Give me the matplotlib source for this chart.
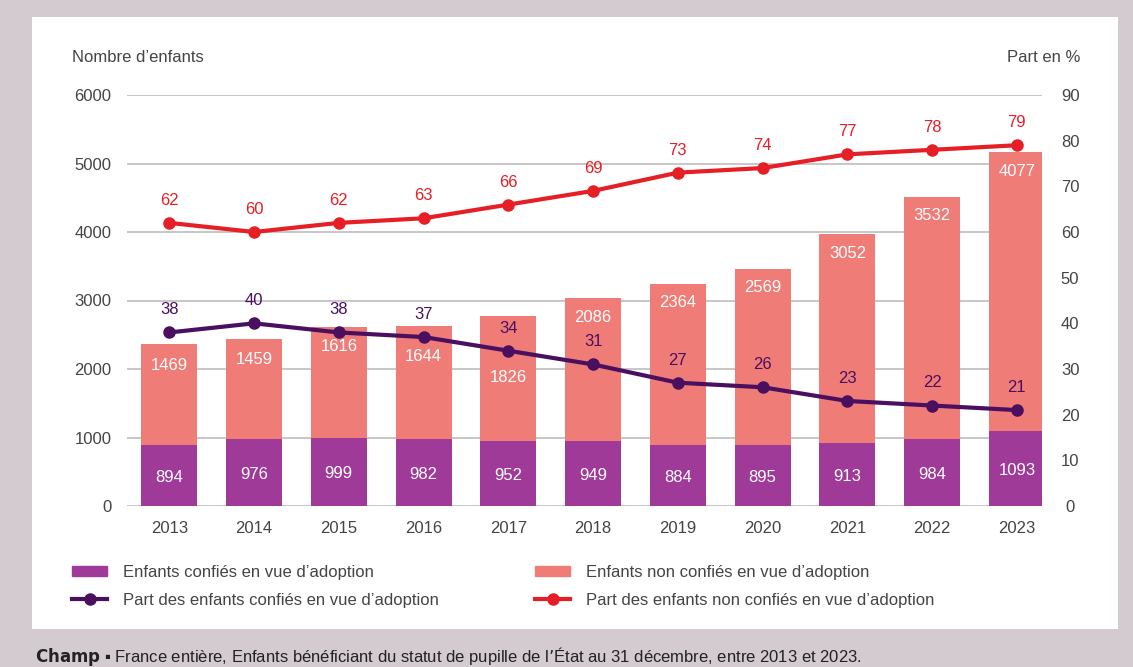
import numpy as np
import matplotlib.pyplot as plt
from matplotlib.patches import Rectangle
from matplotlib.lines import Line2D

plt.rcParams['font.family'] = ['Liberation Sans', 'DejaVu Sans']

years = ['2013', '2014', '2015', '2016', '2017', '2018', '2019', '2020', '2021', '2022', '2023']
confies = [894, 976, 999, 982, 952, 949, 884, 895, 913, 984, 1093]
non_confies = [1469, 1459, 1616, 1644, 1826, 2086, 2364, 2569, 3052, 3532, 4077]
part_confies = [38, 40, 38, 37, 34, 31, 27, 26, 23, 22, 21]
part_non_confies = [62, 60, 62, 63, 66, 69, 73, 74, 77, 78, 79]

c_purple = '#a03a98'
c_salmon = '#f07c78'
c_dark = '#4a0f5e'
c_red = '#e61e25'
grey = '#444444'
fs = 12

fig = plt.figure(figsize=(11.33, 6.67), dpi=100)
fig.patch.set_facecolor('#d4cbd1')
fig.add_artist(Rectangle((32 / 1133, 1 - 629 / 667), (1118 - 32) / 1133, (629 - 17) / 667,
                         transform=fig.transFigure, facecolor='white', edgecolor='none', zorder=0))

ax = fig.add_axes([0.112, 1 - 506 / 667, 0.808, (506 - 95) / 667])
ax.patch.set_alpha(0)
x = np.arange(len(years))
w = 0.66
ax.bar(x, confies, w, color=c_purple, zorder=2)
ax.bar(x, non_confies, w, bottom=confies, color=c_salmon, zorder=2)
ax.set_ylim(0, 6000)
ax.set_xlim(-0.5, 10.3)
ax.set_yticks(range(0, 6001, 1000))
ax.grid(axis='y', color='#bdbdbd', lw=1.2, zorder=0)
for s in ax.spines.values():
    s.set_visible(False)
ax.tick_params(axis='both', length=0, labelsize=fs, labelcolor=grey)
ax.tick_params(axis='y', pad=11)
ax.tick_params(axis='x', pad=11)
ax.set_xticks(x, years)

# distance of the top label below the top of each bar (some moved to avoid the line)
top_offset = {0: 310, 1: 290, 3: 440, 4: 900}
for i in x:
    ax.text(i, confies[i] / 2 - 30, str(confies[i]), ha='center', va='center',
            color='white', fontsize=fs, zorder=3)
    top = confies[i] + non_confies[i]
    ax.text(i, top - top_offset.get(i, 280), str(non_confies[i]), ha='center', va='center',
            color='white', fontsize=fs, zorder=3)

ax2 = ax.twinx()
ax2.set_ylim(0, 90)
ax2.set_yticks(range(0, 91, 10))
for s in ax2.spines.values():
    s.set_visible(False)
ax2.tick_params(axis='y', length=0, labelsize=fs, labelcolor=grey, pad=20)
for t in ax2.get_yticklabels():
    t.set_ha('center')
ax2.plot(x, part_confies, color=c_dark, lw=3, marker='o', ms=8, zorder=4)
ax2.plot(x, part_non_confies, color=c_red, lw=3, marker='o', ms=8, zorder=4)
for i in x:
    ax2.text(i, part_confies[i] + 3.3, str(part_confies[i]), ha='center', va='bottom',
             color=c_dark, fontsize=fs, zorder=5)
    ax2.text(i, part_non_confies[i] + 3.3, str(part_non_confies[i]), ha='center', va='bottom',
             color=c_red, fontsize=fs, zorder=5)

fig.text(72 / 1133, 1 - 57 / 667, "Nombre d\u2019enfants", fontsize=fs, color=grey, va='center')
fig.text(1080 / 1133, 1 - 57 / 667, "Part en %", fontsize=fs, color=grey, va='center', ha='right')

handles = [Rectangle((0, 0), 1, 1, color=c_purple),
           Rectangle((0, 0), 1, 1, color=c_salmon),
           Line2D([], [], color=c_dark, lw=3, marker='o', ms=8),
           Line2D([], [], color=c_red, lw=3, marker='o', ms=8)]
labels = ["Enfants confi\u00e9s en vue d\u2019adoption",
          "Enfants non confi\u00e9s en vue d\u2019adoption",
          "Part des enfants confi\u00e9s en vue d\u2019adoption",
          "Part des enfants non confi\u00e9s en vue d\u2019adoption"]
leg = fig.legend([handles[0], handles[2], handles[1], handles[3]],
                 [labels[0], labels[2], labels[1], labels[3]],
                 ncol=2, loc='upper left', bbox_to_anchor=(57 / 1133, 1 - 550 / 667),
                 frameon=False, fontsize=fs, handlelength=2.1, handleheight=0.6,
                 handletextpad=0.95, columnspacing=5.8, labelspacing=0.78)
for t in leg.get_texts():
    t.set_color(grey)

fig.text(35 / 1133, 1 - 656 / 667,
         "$\\bf{Champ}$ \u25aa France enti\u00e8re, Enfants b\u00e9n\u00e9ficiant du statut de pupille "
         "de l\u2019\u00c9tat au 31 d\u00e9cembre, entre 2013 et 2023.",
         fontsize=fs, color='#222222', va='center')

fig.savefig('out.png', dpi=100, facecolor=fig.get_facecolor())
